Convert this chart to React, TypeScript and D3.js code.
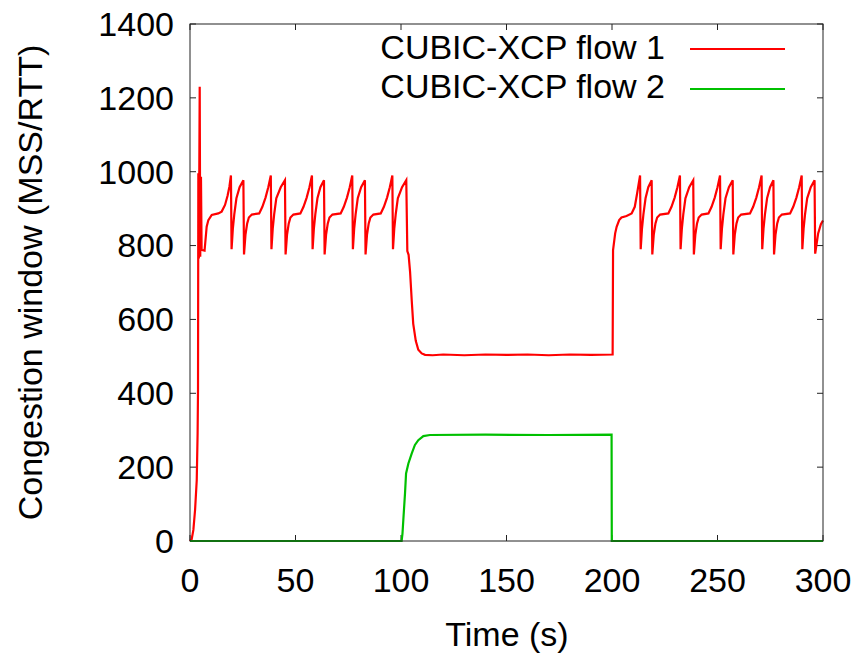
import React from "react";
import * as d3 from "d3";

const seriesNames = ["CUBIC-XCP flow 1", "CUBIC-XCP flow 2"];
const xTicks = [0, 50, 100, 150, 200, 250, 300];
const yTicks = [0, 200, 400, 600, 800, 1000, 1200, 1400];

// flow 1: [time (s), cwnd]
const flow1: [number, number][] = [
  [0, 0], [0.8, 5], [1.6, 30], [2.4, 84], [3.2, 165], [3.6, 290], [3.8, 410], [3.95, 996], [4.2, 765], [4.6, 1230], [4.85, 770], [5.2, 986], [5.5, 788], [6.9, 786], [7.9, 851], [8.7, 869], [10.3, 883], [13.4, 887], [15.0, 892], [16.6, 910], [17.8, 935], [18.7, 960], [19.4, 990],
  [19.7, 790], [20.3, 845], [21.0, 885], [22.0, 928], [23.5, 958], [25.3, 977], [25.6, 776], [26.3, 830], [27.1, 860], [27.9, 876], [29.3, 884], [32.8, 887], [34.3, 905], [35.8, 930], [37.1, 958], [38.3, 990],
  [38.6, 790], [39.2, 845], [39.9, 885], [40.9, 928], [43.0, 958], [45.0, 977], [45.3, 776], [46.0, 830], [46.8, 860], [47.6, 876], [49.0, 884], [52.3, 887], [53.8, 905], [55.3, 930], [56.6, 958], [57.8, 990],
  [58.1, 790], [58.7, 845], [59.4, 885], [60.4, 928], [61.8, 958], [63.5, 977], [63.8, 776], [64.5, 830], [65.3, 860], [66.1, 876], [67.5, 884], [71.4, 887], [72.9, 905], [74.4, 930], [75.7, 958], [76.9, 990],
  [77.2, 790], [77.8, 845], [78.5, 885], [79.5, 928], [81.1, 958], [82.9, 977], [83.2, 776], [83.9, 830], [84.7, 860], [85.5, 876], [86.9, 884], [90.4, 887], [91.9, 905], [93.4, 930], [94.7, 958], [95.9, 990],
  [96.2, 790], [96.8, 845], [97.5, 885], [98.5, 928], [100.5, 958], [102.5, 977], [103.0, 785], [103.6, 775], [104.3, 729], [105.1, 650], [105.8, 588], [107.0, 542], [108.2, 518], [109.8, 508], [111.4, 504], [115, 503], [120, 505], [130, 503], [140, 505], [150, 504], [160, 505], [170, 503], [180, 505], [190, 504], [200.3, 505],
  [200.5, 788], [201.5, 833], [202.2, 851], [203.4, 869], [204.5, 876], [206.9, 880], [209.3, 887], [210.8, 905], [211.9, 941], [213.3, 990],
  [213.6, 790], [214.2, 845], [214.9, 885], [215.9, 928], [217.2, 958], [218.8, 977], [219.1, 776], [219.8, 830], [220.6, 860], [221.4, 876], [222.8, 884], [226.7, 887], [228.2, 905], [229.7, 930], [231.0, 958], [232.2, 990],
  [232.5, 790], [233.1, 845], [233.8, 885], [234.8, 928], [236.6, 958], [238.5, 977], [238.8, 776], [239.5, 830], [240.3, 860], [241.1, 876], [242.5, 884], [245.7, 887], [247.2, 905], [248.7, 930], [250.0, 958], [251.2, 990],
  [251.5, 790], [252.1, 845], [252.8, 885], [253.8, 928], [255.4, 958], [257.2, 977], [257.5, 776], [258.2, 830], [259.0, 860], [259.8, 876], [261.2, 884], [265.4, 887], [266.9, 905], [268.4, 930], [269.7, 958], [270.9, 990],
  [271.2, 790], [271.8, 845], [272.5, 885], [273.5, 928], [274.9, 958], [276.5, 977], [276.8, 776], [277.5, 830], [278.3, 860], [279.1, 876], [280.5, 884], [284.4, 887], [285.9, 905], [287.4, 930], [288.7, 958], [289.9, 990],
  [290.2, 790], [290.8, 845], [291.5, 885], [292.5, 928], [294.2, 958], [296.0, 977], [296.3, 778], [297.7, 833], [299.0, 858], [300, 868],
];

// flow 2: [time (s), cwnd]
const flow2: [number, number][] = [
  [0, 0], [100.3, 0], [100.7, 20], [101.1, 57], [101.9, 129], [102.4, 183], [103.5, 210], [105.1, 237], [106.6, 260], [108.2, 273], [110.6, 284], [113.7, 287], [140, 288], [170, 287], [199.8, 288], [199.9, 0], [300, 0],
];

const colors = ["#ff0000", "#00c000"];

export default function App() {
  const W = 855, H = 658;
  const left = 190, right = 823, top = 24, bottom = 541;
  const x = d3.scaleLinear().domain([0, 300]).range([left, right]);
  const y = d3.scaleLinear().domain([0, 1400]).range([bottom, top]);
  const line = d3.line<[number, number]>().x(d => x(d[0])).y(d => y(d[1]));
  const font = "'Liberation Sans', Arial, Helvetica, sans-serif";
  const fs = 34;
  const tl = 6;
  return (
    <svg width={W} height={H} style={{ position: "absolute", left: 0, top: 0, background: "#fff" }} fontFamily={font}>
      <rect x={0} y={0} width={W} height={H} fill="#fff" />
      {xTicks.map(t => (
        <g key={"x" + t}>
          <line x1={x(t)} x2={x(t)} y1={bottom} y2={bottom - tl} stroke="#222" strokeWidth={1} />
          <line x1={x(t)} x2={x(t)} y1={top} y2={top + tl} stroke="#222" strokeWidth={1} />
          <text x={x(t)} y={592} fontSize={fs} textAnchor="middle" fill="#000">{t}</text>
        </g>
      ))}
      {yTicks.map(t => (
        <g key={"y" + t}>
          <line x1={left} x2={left + tl} y1={y(t)} y2={y(t)} stroke="#222" strokeWidth={1} />
          <line x1={right} x2={right - tl} y1={y(t)} y2={y(t)} stroke="#222" strokeWidth={1} />
          <text x={174} y={y(t)} dy="0.35em" fontSize={fs} textAnchor="end" fill="#000">{t}</text>
        </g>
      ))}
      <path d={line(flow1) || ""} fill="none" stroke={colors[0]} strokeWidth={2.2} />
      <path d={line(flow2) || ""} fill="none" stroke={colors[1]} strokeWidth={2.2} />
      <rect x={left} y={top} width={right - left} height={bottom - top} fill="none" stroke="#222" strokeWidth={1} />
      {seriesNames.map((n, i) => (
        <g key={n}>
          <text x={665} y={59 + i * 38.5} fontSize={fs} textAnchor="end" fill="#000">{n}</text>
          <line x1={690} x2={785} y1={49 + i * 40} y2={49 + i * 40} stroke={colors[i]} strokeWidth={2.2} />
        </g>
      ))}
      <text x={507} y={646} fontSize={fs} textAnchor="middle" fill="#000">Time (s)</text>
      <text transform={`translate(42, ${(top + bottom) / 2}) rotate(-90)`} fontSize={fs} textAnchor="middle" fill="#000">Congestion window (MSS/RTT)</text>
    </svg>
  );
}
